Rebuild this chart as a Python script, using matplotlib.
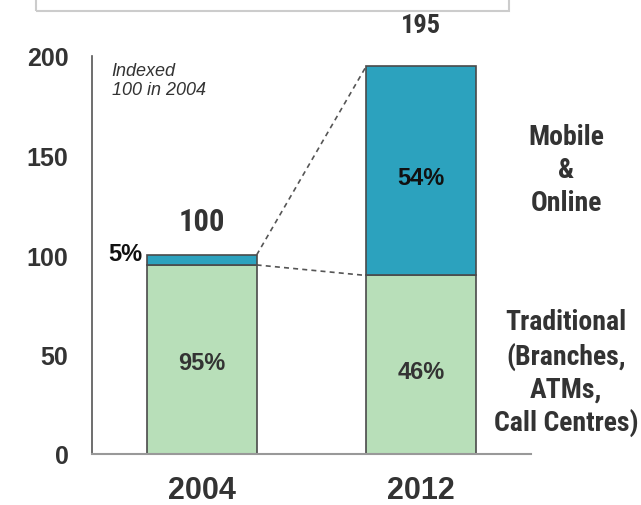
import matplotlib.pyplot as plt
from matplotlib import font_manager
from matplotlib.patches import Rectangle

# data
years = ['2004', '2012']
totals = [100, 195]
trad_share = [95, 46]
mobile_share = [5, 54]
traditional = [t * s / 100 for t, s in zip(totals, trad_share)]
mobile = [t * s / 100 for t, s in zip(totals, mobile_share)]

green = '#b8dfb9'
teal = '#2ca2be'
edge = '#4a4a4a'
txt = '#333333'

plt.rcParams['font.family'] = ['Liberation Sans', 'DejaVu Sans']

# pick a condensed face if one is installed
installed = {f.name for f in font_manager.fontManager.ttflist}
narrow_kw = None
for name in ['Liberation Sans Narrow', 'Roboto Condensed', 'Open Sans Condensed', 'Arial Narrow']:
    if name in installed:
        narrow_kw = dict(family=[name, 'DejaVu Sans'])
        big = 1.0
        break
if narrow_kw is None:
    cond = [f for f in font_manager.fontManager.ttflist
            if f.name == 'DejaVu Sans' and f.stretch in ('condensed', 600, 'semi-condensed')]
    if cond:
        narrow_kw = dict(family=['DejaVu Sans'], fontstretch='condensed')
        big = 0.88
    else:
        narrow_kw = dict(family=['Liberation Sans', 'DejaVu Sans'])
        big = 0.85

fig = plt.figure(figsize=(6.41, 5.06), dpi=100)
ax = fig.add_axes([92 / 641, 51 / 506, 439 / 641, 398 / 506])

x = [0, 1]
w = 0.5
ax.bar(x, traditional, width=w, color=green, edgecolor=edge, linewidth=1.2)
ax.bar(x, mobile, width=w, bottom=traditional, color=teal, edgecolor=edge, linewidth=1.2)

ax.set_xlim(-0.5, 1.5)
ax.set_ylim(0, 200)
ax.set_yticks([0, 50, 100, 150, 200])
ax.set_xticks(x)
ax.set_xticklabels(years, fontsize=22, fontweight='bold', color=txt)
ax.tick_params(axis='y', length=0, pad=17, labelsize=18, labelcolor=txt)
ax.tick_params(axis='x', length=0, pad=15)
for lab in ax.get_yticklabels():
    lab.set_fontweight('bold')

for s in ['top', 'right']:
    ax.spines[s].set_visible(False)
ax.spines['left'].set_color('#555555')
ax.spines['bottom'].set_color('#999999')
ax.spines['left'].set_linewidth(1.2)
ax.spines['bottom'].set_linewidth(1.5)

# connector lines
ax.plot([x[0] + w / 2, x[1] - w / 2], [totals[0], totals[1]], ls=(0, (3, 2.5)),
        color='#555555', lw=1.2, clip_on=False)
ax.plot([x[0] + w / 2, x[1] - w / 2], [traditional[0], traditional[1]], ls=(0, (3, 2.5)),
        color='#555555', lw=1.2, clip_on=False)

# totals
ax.text(x[0], totals[0] + 17, str(totals[0]), ha='center', va='center', fontsize=22 * big,
        fontweight='bold', color=txt, **narrow_kw)
ax.text(x[1], totals[1] + 20.5, str(totals[1]), ha='center', va='center', fontsize=19 * big,
        fontweight='bold', color=txt, clip_on=False, **narrow_kw)

# shares
ax.text(x[0], 46, f'{trad_share[0]}%', ha='center', va='center',
        fontsize=17, fontweight='bold', color=txt)
ax.text(x[1], 41.5, f'{trad_share[1]}%', ha='center', va='center',
        fontsize=17, fontweight='bold', color=txt)
ax.text(x[0] - w / 2 - 0.02, totals[0] + 1, f'{mobile_share[0]}%', ha='right', va='center',
        fontsize=17, fontweight='bold', color='#111111')
ax.text(x[1], 139, f'{mobile_share[1]}%', ha='center', va='center',
        fontsize=17, fontweight='bold', color='#111111')

ax.text(-0.41, 197, 'Indexed\n100 in 2004', ha='left', va='top', fontsize=13,
        style='italic', color=txt, linespacing=1.15)

# series labels
ax.text(1.66, 143, 'Mobile\n&\nOnline', ha='center', va='center', fontsize=20 * big,
        fontweight='bold', color=txt, linespacing=1.27, clip_on=False, **narrow_kw)
ax.text(1.66, 41, 'Traditional\n(Branches,\nATMs,\nCall Centres)', ha='center', va='center',
        fontsize=20 * big, fontweight='bold', color=txt, linespacing=1.27, clip_on=False,
        **narrow_kw)

# top frame (cut off title box), kept behind the axes content
fig.patches.append(Rectangle((36 / 641, 494 / 506), (509 - 36) / 641, 20 / 506,
                             transform=fig.transFigure, fill=False, zorder=-1,
                             edgecolor='#cccccc', linewidth=1.5))

fig.savefig('out.png', dpi=100)
